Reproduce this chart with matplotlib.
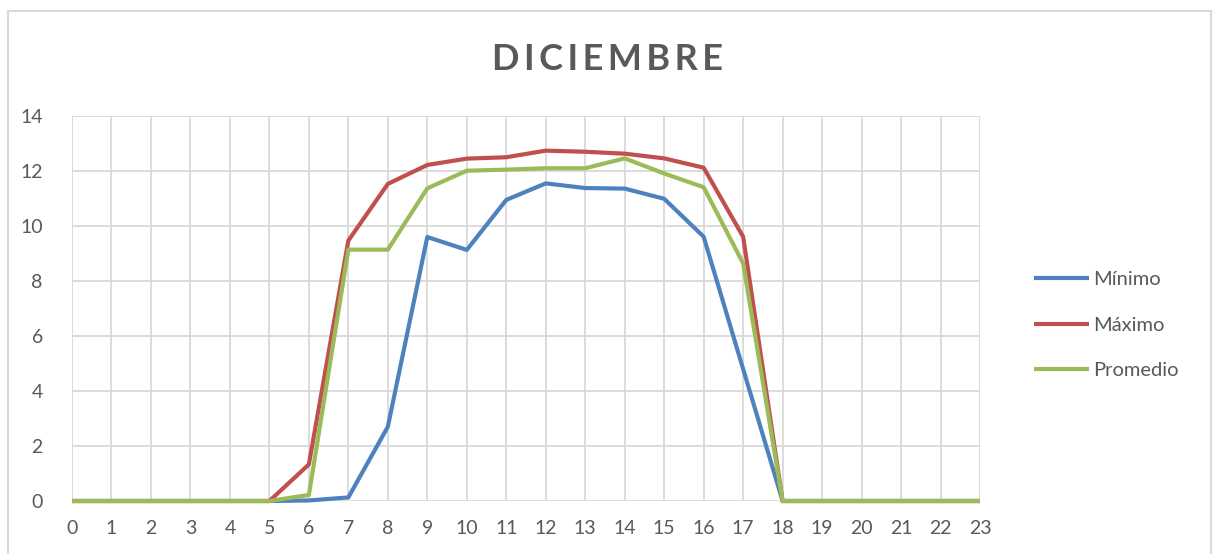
import matplotlib
matplotlib.use("Agg")
import matplotlib.pyplot as plt
from matplotlib.patches import Rectangle

# Hourly values for December
hours = list(range(24))
minimo = [0, 0, 0, 0, 0, 0, 0.02, 0.13, 2.7, 9.6, 9.13, 10.95, 11.55, 11.38,
          11.36, 10.99, 9.61, 4.8, 0, 0, 0, 0, 0, 0]
maximo = [0, 0, 0, 0, 0, 0, 1.33, 9.47, 11.53, 12.22, 12.45, 12.5, 12.74, 12.7,
          12.63, 12.46, 12.12, 9.61, 0, 0, 0, 0, 0, 0]
promedio = [0, 0, 0, 0, 0, 0, 0.22, 9.14, 9.14, 11.37, 12.01, 12.05, 12.1, 12.1,
            12.46, 11.91, 11.41, 8.64, 0, 0, 0, 0, 0, 0]
series_names = ["Mínimo", "Máximo", "Promedio"]
y_ticks = [0, 2, 4, 6, 8, 10, 12, 14]

colors = ["#4F81BD", "#C0504D", "#9BBB59"]
text_color = "#595959"
grid_color = "#D9D9D9"

plt.rcParams["font.family"] = ["Lato", "DejaVu Sans"]

fig = plt.figure(figsize=(12.16, 5.54), dpi=100, facecolor="white")

# outer chart border
fig.patches.append(Rectangle((8 / 1216, -0.01), 1203 / 1216, (554 - 11) / 554 + 0.01,
                             transform=fig.transFigure, fill=False,
                             edgecolor=grid_color, lw=1.5))

ax = fig.add_axes([72 / 1216, 53 / 554, 908 / 1216, 385 / 554])
ax.set_facecolor("white")

for vals, name, c in zip([minimo, maximo, promedio], series_names, colors):
    ax.plot(hours, vals, color=c, lw=3, label=name, solid_joinstyle="round",
            solid_capstyle="butt", zorder=3, clip_on=False)

ax.set_xlim(0, 23)
ax.set_ylim(0, 14)
ax.set_xticks(hours)
ax.set_yticks(y_ticks)
ax.grid(True, color=grid_color, lw=1.3, zorder=0)
for s in ax.spines.values():
    s.set_visible(False)
ax.tick_params(length=0, labelsize=14, labelcolor=text_color)
ax.tick_params(axis="x", pad=14)
ax.tick_params(axis="y", pad=21)

fig.text(0.5, 0.893, "D I C I E M B R E".replace(" ", "\u2009"), ha="center", va="center",
         fontsize=26, fontweight="bold", color=text_color)

leg = ax.legend(loc="center left", bbox_to_anchor=(1.04, 0.457), frameon=False,
                fontsize=14.5, labelcolor=text_color, handlelength=2.7,
                handletextpad=0.2, labelspacing=1.4)

fig.savefig("out.png", dpi=100, facecolor="white")
